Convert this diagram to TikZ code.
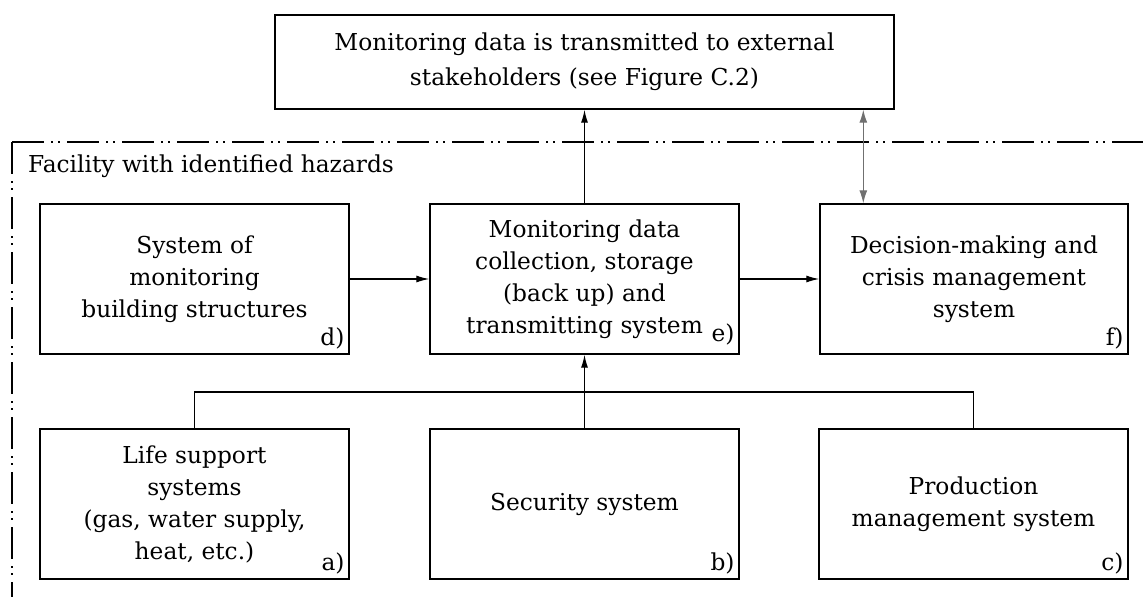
\documentclass[tikz,border=0pt]{standalone}
\usepackage{fontspec}
\setmainfont{DejaVu Serif}
\usetikzlibrary{arrows.meta}
\begin{document}
\begin{tikzpicture}[x=1pt,y=-1pt,
  box/.style={draw,line width=1.4pt,minimum width=309pt,minimum height=150pt,inner sep=0pt,align=center,
    font=\fontsize{23.3pt}{32pt}\selectfont},
  tag/.style={anchor=south east,inner sep=0pt,xshift=-5pt,yshift=5pt,font=\fontsize{23.3pt}{32pt}\selectfont},
  arr/.style={line width=1.2pt,-{Latex[length=13pt,width=7pt]}},
  garr/.style={line width=1.2pt,draw={rgb,255:red,112;green,112;blue,112},{Latex[length=13pt,width=8pt]}-{Latex[length=13pt,width=8pt]}},
  border/.style={line width=1.3pt,dash pattern=on 32pt off 7pt on 2pt off 5pt on 2pt off 7pt},
  plain/.style={line width=1.2pt}]
\useasboundingbox (0,0) rectangle (1143,597);
\node[box,minimum width=619pt,minimum height=94pt,font=\fontsize{23.3pt}{35pt}\selectfont] (top) at (584.5,62)
  {Monitoring data is transmitted to external\\stakeholders (see Figure C.2)};
\node[box,label={[tag]south east:d)}] (d) at (194.5,279) {System of\\monitoring\\building structures};
\node[box,label={[tag,yshift=4pt]south east:e)}] (e) at (584.5,279) {Monitoring data\\collection, storage\\(back up) and\\transmitting system};
\node[box,minimum width=308pt,label={[tag]south east:f)}] (f) at (974,279) {Decision-making and\\crisis management\\system};
\node[box,label={[tag]south east:a)}] (a) at (194.5,504) {Life support\\systems\\(gas, water supply,\\heat, etc.)};
\node[box,label={[tag]south east:b)}] (b) at (584.5,504) {Security system};
\node[box,label={[tag]south east:c)}] (c) at (973.5,504) {Production\\management system};
\node[anchor=west,inner sep=0pt,font=\fontsize{23.3pt}{32pt}\selectfont] (fac) at (28,166) {Facility with identified hazards};
\coordinate (corner) at (12,142);
\coordinate (bus) at (0,392);
\draw[border] (corner) -- (1143,142);
\draw[border] (corner) -- (12,597);
\draw[arr] (d) -- (e);
\draw[arr] (e) -- (f);
\draw[arr] (e.north) -- (top.south);
\draw[garr] ([xshift=44pt]f.north west |- top.south) -- ([xshift=44pt]f.north west);
\draw[plain] (a.north) -- (a.north |- bus) -- (c.north |- bus) -- (c.north);
\draw[arr] (b.north) -- (e.south);
\end{tikzpicture}
\end{document}
